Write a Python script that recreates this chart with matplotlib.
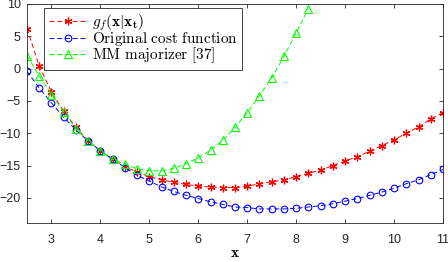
import matplotlib
matplotlib.use("Agg")
import matplotlib.pyplot as plt
import numpy as np

plt.rcParams['mathtext.fontset'] = 'cm'
plt.rcParams['font.family'] = ['Liberation Sans', 'DejaVu Sans']

x_all = [2.5, 2.75, 3.0, 3.25, 3.5, 3.75, 4.0, 4.25, 4.5, 4.75, 5.0, 5.25, 5.5, 5.75,
         6.0, 6.25, 6.5, 6.75, 7.0, 7.25, 7.5, 7.75, 8.0, 8.25, 8.5, 8.75, 9.0, 9.25,
         9.5, 9.75, 10.0, 10.25, 10.5, 10.75, 11.0]

g_f = [6.2, 0.4, -3.6, -6.6, -9.1, -11.2, -12.7, -14.0, -15.2, -16.0, -16.7, -17.2,
       -17.6, -17.9, -18.2, -18.3, -18.4, -18.4, -18.2, -17.8, -17.5, -17.2, -16.7,
       -16.2, -15.7, -15.0, -14.3, -13.6, -12.8, -11.9, -11.0, -10.0, -9.0, -7.8, -6.8]

orig = [-0.4, -3.0, -5.3, -7.5, -9.5, -11.2, -12.7, -14.0, -15.3, -16.5, -17.4, -18.3,
        -19.0, -19.6, -20.1, -20.6, -21.0, -21.4, -21.5, -21.7, -21.7, -21.7, -21.6,
        -21.4, -21.2, -20.9, -20.5, -20.1, -19.6, -19.1, -18.5, -17.8, -17.2, -16.4, -15.6]

x_mm = [2.5, 2.75, 3.0, 3.25, 3.5, 3.75, 4.0, 4.25, 4.5, 4.75, 5.0, 5.25, 5.5, 5.75,
        6.0, 6.25, 6.5, 6.75, 7.0, 7.25, 7.5, 7.75, 8.0, 8.25]
mm = [2.0, -1.1, -4.0, -6.7, -9.3, -11.2, -12.7, -14.0, -14.8, -15.5, -15.8, -15.8,
      -15.4, -14.7, -13.8, -12.6, -11.1, -9.1, -6.8, -4.2, -1.4, 1.9, 5.5, 9.3]

fig = plt.figure(figsize=(4.48, 2.62), dpi=100)
ax = fig.add_axes([27/448, 1 - 222.5/262, (443-27)/448, (222.5-4)/262])

dash = (5, 3)
ax.plot(x_all, g_f, color='#ff0000', ls='--', lw=0.7, marker=(6, 2, 0), ms=5.5, mew=0.9,
        label=r'$g_f(\mathbf{x}|\mathbf{x_t})$', dashes=dash)
ax.plot(x_all, orig, color='#0000ff', ls='--', lw=0.7, marker='o', ms=4.8, mfc='none', mew=0.8,
        label=r'$\mathrm{Original\ cost\ function}$', dashes=dash)
ax.plot(x_mm, mm, color='#00ff00', ls='--', lw=0.7, marker='^', ms=5.4, mfc='none', mew=0.8,
        label=r'$\mathrm{MM\ majorizer\ [37]}$', dashes=dash)

ax.set_xlim(2.5, 11)
ax.set_ylim(-23.8, 10)
ax.set_xticks([3, 4, 5, 6, 7, 8, 9, 10, 11])
ax.set_yticks([-20, -15, -10, -5, 0, 5, 10])
ax.tick_params(direction='in', top=True, right=True, labelsize=9, length=3, width=0.6,
               colors='#262626')
ax.tick_params(axis='x', pad=8)
ax.tick_params(axis='y', pad=4.5)
for s in ax.spines.values():
    s.set_linewidth(0.6)
    s.set_color('#262626')
ax.set_xlabel(r'$\mathbf{x}$', fontsize=11, labelpad=0)

leg = ax.legend(loc='upper left', bbox_to_anchor=(0.038, 0.99), fontsize=11,
                handlelength=2.5, handletextpad=0.3, borderpad=0.3, labelspacing=-0.18,
                fancybox=False, framealpha=1, edgecolor='#262626', borderaxespad=0.1)
leg.get_frame().set_linewidth(0.6)

fig.savefig('out.png', dpi=100)
